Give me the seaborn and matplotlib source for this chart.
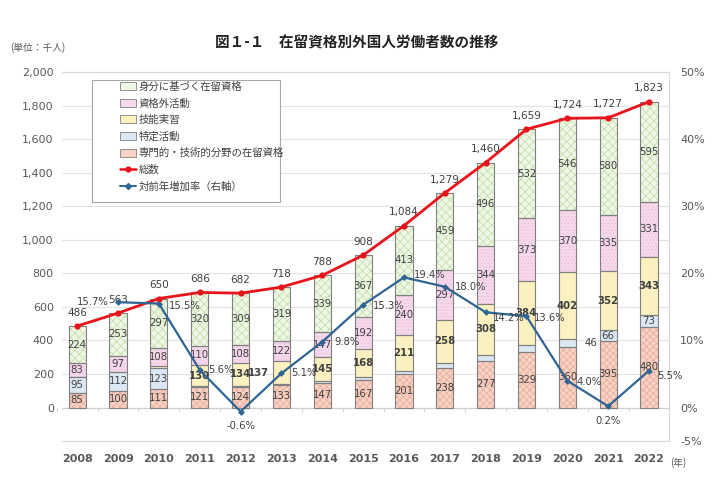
import numpy as np
import pandas as pd
import seaborn as sns
from matplotlib import pyplot as plt
from matplotlib.patches import Patch, Rectangle
from matplotlib.lines import Line2D

years = [2008, 2009, 2010, 2011, 2012, 2013, 2014, 2015, 2016, 2017, 2018, 2019, 2020, 2021, 2022]
senmon = [85, 100, 111, 121, 124, 133, 147, 167, 201, 238, 277, 329, 360, 395, 480]
tokutei = [95, 112, 123, 5, 7, 7, 10, 14, 19, 27, 35, 41, 46, 66, 73]
ginou = [0, 1, 11, 130, 134, 137, 145, 168, 211, 258, 308, 384, 402, 352, 343]
shikakugai = [83, 97, 108, 110, 108, 122, 147, 192, 240, 297, 344, 373, 370, 335, 331]
mibun = [224, 253, 297, 320, 309, 319, 339, 367, 413, 459, 496, 532, 546, 580, 595]
totals = [486, 563, 650, 686, 682, 718, 788, 908, 1084, 1279, 1460, 1659, 1724, 1727, 1823]
growth = [None, 15.7, 15.5, 5.6, -0.6, 5.1, 9.8, 15.3, 19.4, 18.0, 14.2, 13.6, 4.0, 0.2, 5.5]

names = ['専門的・技術的分野の在留資格', '特定活動', '技能実習', '資格外活動', '身分に基づく在留資格']
series = [senmon, tokutei, ginou, shikakugai, mibun]
fills = ['#f7d3c6', '#dbe8f3', '#fbf0c0', '#f6d9ec', '#eef6e4']
hatches = ['xxxxx', None, None, '.....', 'xxxx']
hatch_cols = ['#eaa895', None, None, '#e9bcd9', '#c0dca8']

sns.set_theme(style='white')
plt.rcParams['font.family'] = ['Noto Sans CJK JP', 'DejaVu Sans']
plt.rcParams['hatch.linewidth'] = 0.5

txt = '#404040'
fig = plt.figure(figsize=(7.14, 4.8), dpi=100)
ax = fig.add_axes([0.087, 0.081, 0.85, 0.769])
x = np.arange(len(years))
w = 0.42

bottom = np.zeros(len(years))
for vals, fc, h, hc in zip(series, fills, hatches, hatch_cols):
    vals = np.array(vals, dtype=float)
    if h:
        ax.bar(x, vals, w, bottom=bottom, color=fc, hatch=h, edgecolor=hc, linewidth=0, zorder=2)
    else:
        ax.bar(x, vals, w, bottom=bottom, color=fc, linewidth=0, zorder=2)
    ax.bar(x, vals, w, bottom=bottom, fill=False, edgecolor='#808080', linewidth=0.8, zorder=3)
    bottom += vals

# segment labels
def seg_label(i, base, v, bold=False, dx=0.0, ha='center'):
    ax.text(i + dx, base + v / 2, f'{v}', ha=ha, va='center', fontsize=7.3, color=txt,
            fontweight='bold' if bold else 'normal', family=['DejaVu Sans'], zorder=6)

for i in range(len(years)):
    b = 0
    seg_label(i, b, senmon[i]); b += senmon[i]
    if i < 3 or i >= 13:
        seg_label(i, b, tokutei[i])
    elif i == 12:
        seg_label(i, b, tokutei[i], dx=0.42, ha='left')
    b += tokutei[i]
    if i >= 3:
        if i == 5:
            seg_label(i, b, ginou[i], bold=True, dx=-0.3, ha='right')
        else:
            seg_label(i, b, ginou[i], bold=True)
    b += ginou[i]
    seg_label(i, b, shikakugai[i]); b += shikakugai[i]
    seg_label(i, b, mibun[i])

df = pd.DataFrame({'x': x, 'total': totals, 'growth': growth})
sns.lineplot(data=df, x='x', y='total', ax=ax, color='#e8141b', linewidth=2.0,
             marker='o', markersize=4.5, markeredgewidth=0, zorder=5)
for i, t in enumerate(totals):
    ax.annotate(f'{t:,}', (i, t), xytext=(0, 6), textcoords='offset points', ha='center',
                va='bottom', fontsize=7.5, color=txt, family=['DejaVu Sans'], zorder=7)

ax.set_ylim(-200, 2000)
ax.set_yticks(range(0, 2001, 200))
ax.set_yticklabels([f'{v:,}' for v in range(0, 2001, 200)])
ax.set_xlim(-0.37, 14.49)
ax.set_xticks(x)
ax.set_xticklabels(years)
ax.set_xlabel('')
ax.set_ylabel('')
ax.grid(axis='y', color='#e3e3e3', linewidth=0.8, zorder=0)
ax.set_axisbelow(True)
ax.axhline(0, color='#d0d0d0', linewidth=0.9, zorder=1)
for xb in np.arange(-0.5, 15, 1):
    ax.plot([xb, xb], [0, -18], color='#d0d0d0', linewidth=0.8, zorder=1, clip_on=False)
for s in ax.spines.values():
    s.set_color('#d9d9d9')
    s.set_linewidth(0.9)
ax.spines['left'].set_visible(False)
ax.tick_params(axis='both', length=0, labelsize=8, colors='#595959')
ax.tick_params(axis='y', pad=6)
ax.tick_params(axis='x', pad=9)
for lab in ax.get_xticklabels():
    lab.set_fontweight('bold')
    lab.set_family(['DejaVu Sans'])
for lab in ax.get_yticklabels():
    lab.set_family(['DejaVu Sans'])

ax2 = ax.twinx()
ax2.set_ylim(-5, 50)
ax2.set_yticks([-5, 0, 10, 20, 30, 40, 50])
ax2.set_yticklabels([f'{v}%' for v in [-5, 0, 10, 20, 30, 40, 50]])
ax2.tick_params(axis='y', length=0, labelsize=8, colors='#595959', pad=8)
for lab in ax2.get_yticklabels():
    lab.set_family(['DejaVu Sans'])
for s in ax2.spines.values():
    s.set_visible(False)
ax2.grid(False)
gd = df.dropna()
sns.lineplot(data=gd, x='x', y='growth', ax=ax2, color='#2f6493', linewidth=1.6,
             marker='D', markersize=3.5, markeredgewidth=0, zorder=5)
ax2.set_xlabel('')
ax2.set_ylabel('')

offsets = {1: (-7, 0, 'right', 'center'), 2: (7, -2, 'left', 'center'), 3: (6, 0, 'left', 'center'),
           4: (0, -7, 'center', 'top'), 5: (7, 0, 'left', 'center'), 6: (9, 0, 'left', 'center'),
           7: (7, -1, 'left', 'center'), 8: (7, 2, 'left', 'center'), 9: (7, 0, 'left', 'center'),
           10: (5, -4, 'left', 'center'), 11: (5, -1, 'left', 'center'), 12: (7, -1, 'left', 'center'),
           13: (0, -7, 'center', 'top'), 14: (6, -4, 'left', 'center')}
for i, g in enumerate(growth):
    if g is None:
        continue
    dx, dy, ha, va = offsets[i]
    ax2.annotate(f'{g:.1f}%', (i, g), xytext=(dx, dy), textcoords='offset points', ha=ha, va=va,
                 fontsize=7.2, color=txt, family=['DejaVu Sans'], zorder=7)

# legend box
ax.add_patch(Rectangle((0.049, 0.648), 0.31, 0.33, transform=ax.transAxes, facecolor='white',
                       edgecolor='#a6a6a6', linewidth=0.8, zorder=8))
handles = []
for nm, fc, h, hc in zip(names, fills, hatches, hatch_cols):
    handles.append(Patch(facecolor=fc, edgecolor='#808080', linewidth=0.6, label=nm))
handles = handles[::-1]
handles.append(Line2D([], [], color='#e8141b', linewidth=1.8, marker='o', markersize=3.5, label='総数'))
handles.append(Line2D([], [], color='#2f6493', linewidth=1.4, marker='D', markersize=3, label='対前年増加率（右軸）'))
leg = ax.legend(handles=handles, loc='upper left', bbox_to_anchor=(0.088, 0.985), frameon=False,
                fontsize=7.5, handlelength=1.6, handleheight=0.8, handletextpad=0.2,
                labelspacing=0.62, borderaxespad=0)
leg.set_zorder(9)
for t in leg.get_texts():
    t.set_color('#404040')

fig.text(0.5, 0.912, '図１-１　在留資格別外国人労働者数の推移', ha='center', va='center',
         fontsize=10.5, fontweight='bold', color='#222222')
fig.text(0.014, 0.9, '(単位：千人)', ha='left', va='center', fontsize=7, color='#595959')
fig.text(0.95, 0.036, '(年)', ha='center', va='center', fontsize=7, color='#595959')

fig.savefig('out.png', dpi=100)
